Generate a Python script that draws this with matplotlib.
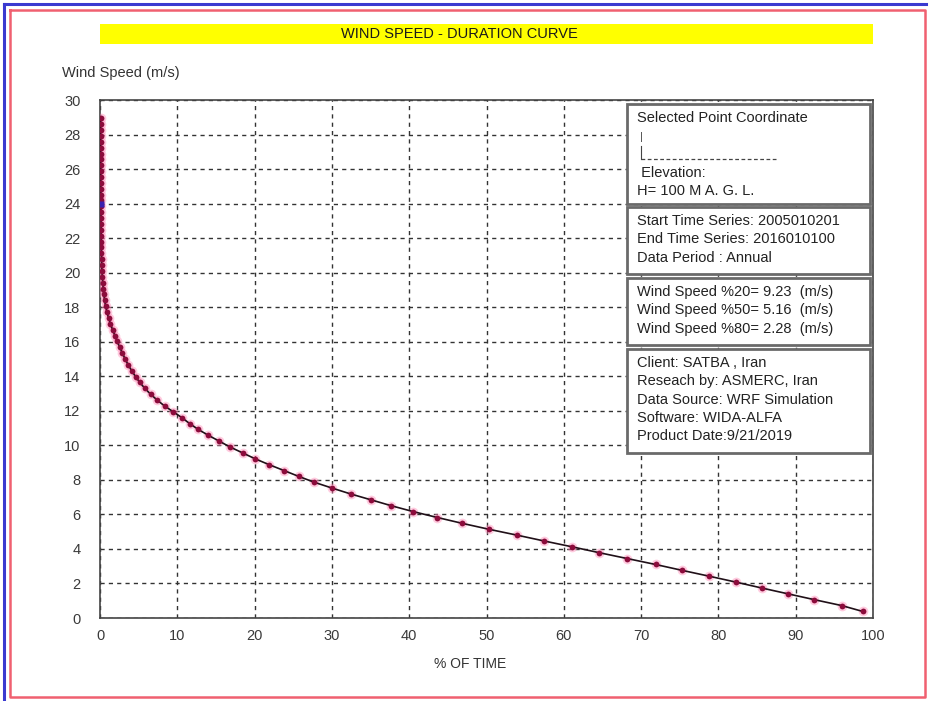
"""
Wind speed - duration curve with station info panels.
Run: python plot.py
"""

import matplotlib

matplotlib.use("Agg")
import matplotlib.pyplot as plt
from matplotlib.lines import Line2D
from matplotlib.patches import Rectangle

plt.rcParams["font.family"] = ["Liberation Sans", "DejaVu Sans"]

# --------- Data ---------
# wind speed (m/s) and share of time (%) it is exceeded
speed = [
    28.94, 28.60, 28.26, 27.92, 27.58, 27.24, 26.90, 26.56, 26.22, 25.88,
    25.54, 25.20, 24.86, 24.52, 24.18, 23.84, 23.50, 23.16, 22.82, 22.48,
    22.14, 21.80, 21.46, 21.12, 20.78, 20.44, 20.10, 19.76, 19.42, 19.08,
    18.74, 18.40, 18.06, 17.72, 17.38, 17.04, 16.70, 16.36, 16.02, 15.68,
    15.34, 15.00, 14.66, 14.32, 13.98, 13.64, 13.30, 12.96, 12.62, 12.28,
    11.94, 11.60, 11.26, 10.92, 10.58, 10.24, 9.90, 9.56, 9.22, 8.88,
    8.54, 8.20, 7.86, 7.52, 7.18, 6.84, 6.50, 6.16, 5.82, 5.48,
    5.14, 4.80, 4.46, 4.12, 3.78, 3.44, 3.10, 2.76, 2.42, 2.08,
    1.74, 1.40, 1.06, 0.72, 0.38,
]
time_pct = [
    0.10, 0.10, 0.10, 0.10, 0.10, 0.10, 0.10, 0.11, 0.11, 0.11,
    0.11, 0.12, 0.12, 0.12, 0.13, 0.13, 0.13, 0.14, 0.14, 0.15,
    0.15, 0.16, 0.17, 0.19, 0.21, 0.22, 0.26, 0.30, 0.36, 0.42,
    0.50, 0.60, 0.72, 0.90, 1.10, 1.35, 1.62, 1.93, 2.22, 2.55,
    2.90, 3.25, 3.65, 4.10, 4.60, 5.15, 5.80, 6.55, 7.40, 8.35,
    9.49, 10.60, 11.60, 12.71, 14.02, 15.43, 16.84, 18.46, 20.07, 21.88,
    23.80, 25.71, 27.73, 30.05, 32.46, 35.09, 37.70, 40.53, 43.65, 46.88,
    50.30, 53.93, 57.46, 61.10, 64.61, 68.24, 71.87, 75.30, 78.82, 82.25,
    85.58, 89.00, 92.43, 95.95, 98.67,
]
selected_speed = 24.0
selected_pct = 0.13

x_ticks = [0, 10, 20, 30, 40, 50, 60, 70, 80, 90, 100]
y_ticks = [0, 2, 4, 6, 8, 10, 12, 14, 16, 18, 20, 22, 24, 26, 28, 30]

info_blocks = [
    ["Selected Point Coordinate", "", "", " Elevation:", "H= 100 M A. G. L."],
    ["Start Time Series: 2005010201", "End Time Series: 2016010100",
     "Data Period : Annual"],
    ["Wind Speed %20= 9.23  (m/s)", "Wind Speed %50= 5.16  (m/s)",
     "Wind Speed %80= 2.28  (m/s)"],
    ["Client: SATBA , Iran", "Reseach by: ASMERC, Iran",
     "Data Source: WRF Simulation", "Software: WIDA-ALFA",
     "Product Date:9/21/2019"],
]

W, H = 930, 701


def fx(px):
    return px / W


def fy(py):
    return 1 - py / H


fig = plt.figure(figsize=(W / 100, H / 100), dpi=100)
fig.patch.set_facecolor("white")

# window border lines
fig.add_artist(Line2D([fx(4), fx(926)], [fy(4), fy(4)], color="#3a3ad0", lw=2.2))
fig.add_artist(Line2D([fx(4), fx(4)], [fy(4), fy(700)], color="#3a3ad0", lw=2.2))
fig.add_artist(Line2D([fx(10), fx(925), fx(925), fx(10), fx(10)],
                      [fy(10), fy(10), fy(697), fy(697), fy(10)],
                      color="#f06070", lw=1.8))

# title bar
fig.add_artist(Rectangle((fx(100), fy(44)), fx(773), 20 / H,
                         facecolor="#ffff00", edgecolor="none"))
fig.text(fx(459), fy(34), "WIND SPEED - DURATION CURVE", ha="center",
         va="center", fontsize=10.5, color="#1a1a1a")

ax = fig.add_axes([fx(100), fy(618), fx(773), 518 / H])
ax.set_xlim(0, 100)
ax.set_ylim(0, 30)
ax.set_xticks(x_ticks)
ax.set_yticks(y_ticks)
ax.tick_params(length=0, labelsize=10.5, colors="#3a3a3a")
ax.tick_params(axis="y", pad=14)
ax.tick_params(axis="x", pad=8)
ax.grid(True, color="#333333", linestyle=(0, (3, 3)), linewidth=1.0)
for sp in ax.spines.values():
    sp.set_color("#444444")
    sp.set_linewidth(1.2)

ax.plot(time_pct, speed, "o", ms=7, color="#ff8cb8", alpha=0.45, mec="none",
        zorder=3)
ax.plot(time_pct, speed, "-", color="#201018", lw=1.2, zorder=4)
ax.plot(time_pct, speed, "o", ms=4.2, color="#8c0c3c", mec="none", zorder=5)
ax.plot([selected_pct], [selected_speed], "s", ms=5, color="#3a20b0",
        mec="none", zorder=6)

fig.text(fx(62), fy(73), "Wind Speed (m/s)", ha="left", va="center",
         fontsize=10.5, color="#333333")
fig.text(fx(470), fy(664), "% OF TIME", ha="center", va="center",
         fontsize=10, color="#333333")

# info panels on the right
boxes = [(104, 204), (207, 274), (278, 345), (349, 453)]
for (top, bottom), lines in zip(boxes, info_blocks):
    fig.add_artist(Rectangle((fx(627), fy(bottom)), fx(243), (bottom - top) / H,
                             facecolor="white", edgecolor="#6a6a6a", lw=2.0,
                             zorder=5))
    for i, line in enumerate(lines):
        fig.text(fx(637), fy(top + 14 + 18.3 * i), line, ha="left",
                 va="center", fontsize=10.5, color="#222222", zorder=6)

# empty coordinate placeholders in the first panel
fig.text(fx(640), fy(137), "|", ha="left", va="center", fontsize=8,
         color="#444444", zorder=6)
fig.add_artist(Line2D([fx(641), fx(641)], [fy(146), fy(159)], color="#444444",
                      lw=0.8, zorder=6))
fig.add_artist(Line2D([fx(641), fx(776)], [fy(159), fy(159)], color="#444444",
                      lw=0.9, linestyle=(0, (3, 2)), zorder=6))

fig.savefig("out.png", dpi=100)
